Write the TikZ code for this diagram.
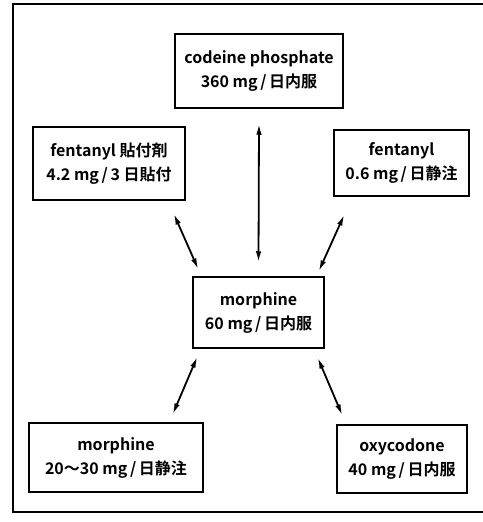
\documentclass[tikz,border=0pt]{standalone}
\usepackage{fontspec}
\setmainfont{Noto Sans CJK JP}[BoldFont={* Bold}]
\usetikzlibrary{arrows.meta,calc}
\begin{document}
\begin{tikzpicture}[x=1pt,y=-1pt,
  drug/.style={draw,line width=1.5pt,rectangle,inner sep=0pt,align=center,font=\fontsize{16}{24}\selectfont\bfseries},
  link/.style={line width=1.8pt,{Latex[length=11pt,width=5.5pt]}-{Latex[length=11pt,width=5.5pt]}}]
\useasboundingbox (0,0) rectangle (482,522);
\draw[line width=1.8pt] (490,4) -- (13,4) -- (13,512) -- (490,512);
\node[drug,minimum width=168pt,minimum height=74pt] (cod) at (259,71) {codeine phosphate\\360 mg\,/\,日内服};
\node[drug,minimum width=152pt,minimum height=73pt] (fp) at (109,163.5) {fentanyl 貼付剤\\4.2 mg\,/\,3 日貼付};
\node[drug,minimum width=135pt,minimum height=66pt] (fi) at (401.5,163) {fentanyl\\0.6 mg\,/\,日静注};
\node[drug,minimum width=131pt,minimum height=71pt] (mo) at (258.5,312.5) {morphine\\60 mg\,/\,日内服};
\node[drug,minimum width=174pt,minimum height=69pt] (mi) at (116,457.5) {morphine\\20～30 mg\,/\,日静注};
\node[drug,minimum width=130pt,minimum height=68pt] (ox) at (402,459) {oxycodone\\40 mg\,/\,日内服};
\coordinate (c1) at ($(cod.south)+(0,15)$);
\coordinate (m1) at ($(mo.north)+(0,-14)$);
\coordinate (f1) at ($(fp.south east)+(-12,13)$);
\coordinate (m2) at ($(mo.north west)+(6,-7)$);
\coordinate (f2) at ($(fi.south west)+(11,18)$);
\coordinate (m3) at ($(mo.north east)+(-6,-5)$);
\coordinate (m4) at ($(mo.south west)+(5,8)$);
\coordinate (b1) at ($(mi.north east)+(-31,-8)$);
\coordinate (m5) at ($(mo.south east)+(-7,9)$);
\coordinate (b2) at ($(ox.north west)+(6,-9)$);
\draw[link] (c1) -- (m1);
\draw[link] (f1) -- (m2);
\draw[link] (f2) -- (m3);
\draw[link] (m4) -- (b1);
\draw[link] (m5) -- (b2);
\end{tikzpicture}
\end{document}
